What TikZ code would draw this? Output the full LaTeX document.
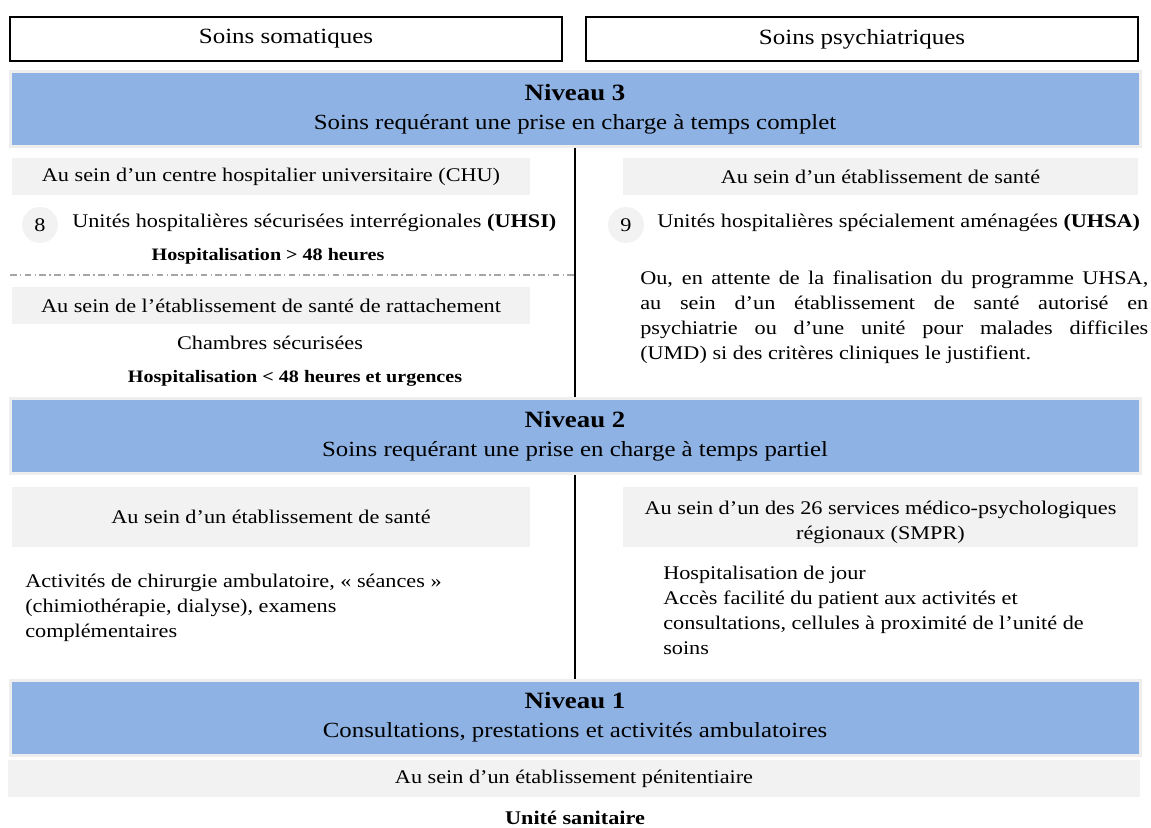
\documentclass[tikz,border=0pt]{standalone}
\usepackage{fontspec}
\setmainfont[FakeStretch=1.15]{Liberation Serif}
\usetikzlibrary{positioning}
\definecolor{bandblue}{RGB}{142,178,227}
\definecolor{bandframe}{RGB}{238,238,238}
\definecolor{placegray}{RGB}{242,242,242}
\definecolor{dashgray}{RGB}{165,165,165}
\newcommand{\jline}[1]{\makebox[381pt][s]{#1}\\}

\begin{document}
\begin{tikzpicture}[x=0.75pt,y=-0.75pt,
  every node/.style={font=\fontsize{14.5}{18.75}\selectfont,inner sep=0pt},
  topbox/.style={draw,line width=1.5pt,minimum width=552*0.75pt,minimum height=44*0.75pt,
    font=\fontsize{16.3}{20}\selectfont},
  band/.style={fill=bandblue,draw=bandframe,line width=2.25pt,minimum width=1130*0.75pt,
    minimum height=75*0.75pt,align=center,font=\fontsize{16.2}{20}\selectfont},
  placebox/.style={fill=placegray,minimum width=518*0.75pt,minimum height=37*0.75pt,align=center},
  numdot/.style={circle,fill=placegray,minimum size=36*0.75pt},
  duration/.style={font=\fontsize{13.1}{16}\selectfont\bfseries},
  sepline/.style={line width=1pt}]
    \useasboundingbox (0,0) rectangle (1151,827);

    % headers
    \node[topbox] (soma) at (286,39) {Soins somatiques};
    \node[topbox] (psy) at (862,39) {Soins psychiatriques};

    % Niveau 3
    \node[band] (n3) at (575,109) {{\bfseries\fontsize{17.5}{20}\selectfont Niveau 3}\\[2pt]Soins requérant une prise en charge à temps complet};

    \node[placebox] (chu) at (271,176.5) {Au sein d’un centre hospitalier universitaire (CHU)};
    \node[numdot] (d8) at (40,225) {8};
    \node[anchor=west] (uhsi) at (72,223) {Unités hospitalières sécurisées interrégionales \textbf{(UHSI)}};
    \node[duration] (plus48) at (268,256) {Hospitalisation > 48 heures};
    \coordinate (cutl) at (10,275);
    \coordinate (cutr) at (575,275);
    \draw[dashgray,line width=0.9pt,dash pattern=on 5pt off 2.5pt on 1pt off 2.5pt] (cutl) -- (cutr);
    \node[placebox] (ratt) at (271,305.5) {Au sein de l’établissement de santé de rattachement};
    \node (chamb) at (270,343) {Chambres sécurisées};
    \node[duration] (moins48) at (295,378) {Hospitalisation < 48 heures et urgences};

    \node[placebox,minimum width=515*0.75pt] (etab3) at (880.5,176.5) {Au sein d’un établissement de santé};
    \node[numdot] (d9) at (626,225) {9};
    \node[anchor=west] (uhsa) at (657,223) {Unités hospitalières spécialement aménagées \textbf{(UHSA)}};
    \node[anchor=north west,align=left] (umd) at (640,271) {%
      \jline{Ou, en attente de la finalisation du programme UHSA,}
      \jline{au sein d’un établissement de santé autorisé en}
      \jline{psychiatrie ou d’une unité pour malades difficiles}
      (UMD) si des critères cliniques le justifient.};

    % Niveau 2
    \node[band] (n2) at (575,436) {{\bfseries\fontsize{17.5}{20}\selectfont Niveau 2}\\[2pt]Soins requérant une prise en charge à temps partiel};

    \node[placebox,minimum height=60*0.75pt] (etab2) at (271,517) {Au sein d’un établissement de santé};
    \node[anchor=north west,align=left] (ambu) at (25,574) {Activités de chirurgie ambulatoire, « séances »\\
      (chimiothérapie, dialyse), examens\\complémentaires};

    \node[placebox,minimum width=515*0.75pt,minimum height=60*0.75pt,text depth=0pt] (smpr) at (880.5,517)
      {\raisebox{4.5pt}{\parbox{381pt}{\centering Au sein d’un des 26 services médico-psychologiques\\régionaux (SMPR)}}};
    \node[anchor=north west,align=left] (jour) at (663,566) {Hospitalisation de jour\\
      Accès facilité du patient aux activités et\\consultations, cellules à proximité de l’unité de\\soins};

    % Niveau 1
    \node[band] (n1) at (575,717.5) {{\bfseries\fontsize{17.5}{20}\selectfont Niveau 1}\\[2pt]Consultations, prestations et activités ambulatoires};
    \node[placebox,minimum width=1132*0.75pt] (penit) at (574,778.5) {Au sein d’un établissement pénitentiaire};
    \node[font=\fontsize{14.5}{18}\selectfont\bfseries] (usan) at (575,818) {Unité sanitaire};

    % separateurs
    \draw[sepline] (n3.south) -- (n2.north);
    \draw[sepline] (n2.south) -- (n1.north);
\end{tikzpicture}
\end{document}
